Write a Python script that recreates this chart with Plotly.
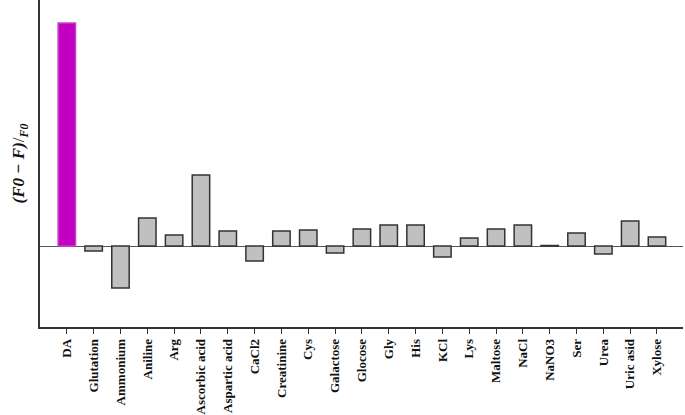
import plotly.graph_objects as go

categories = ["DA", "Glutation", "Ammonium", "Aniline", "Arg", "Ascorbic acid",
              "Aspartic acid", "CaCl2", "Creatinine", "Cys", "Galactose", "Glocose",
              "Gly", "His", "KCl", "Lys", "Maltose", "NaCl", "NaNO3", "Ser", "Urea",
              "Uric asid", "Xylose"]
values = [2.23, -0.05, -0.42, 0.28, 0.11, 0.71, 0.15, -0.15, 0.15, 0.16, -0.07,
          0.17, 0.21, 0.21, -0.11, 0.08, 0.17, 0.21, 0.005, 0.13, -0.08, 0.25, 0.09]
fill_colors = ["#c200c2"] + ["#c0c0c0"] * (len(categories) - 1)
line_colors = ["#c840c8"] + ["#333333"] * (len(categories) - 1)

SERIF = "Liberation Serif, Times New Roman, serif"

fig = go.Figure(go.Bar(
    x=categories, y=values, width=0.65,
    marker=dict(color=fill_colors, line=dict(color=line_colors, width=1.5)),
))

n = len(categories)
fig.update_layout(
    width=685, height=415,
    margin=dict(l=40, r=2, t=0, b=88, autoexpand=False),
    plot_bgcolor="white", paper_bgcolor="white",
    showlegend=False,
    font=dict(family=SERIF, color="#111111"),
)
fig.update_xaxes(
    type="category", range=[-1.0, n - 1 + 0.97], automargin=False,
    showline=True, linecolor="#333333", linewidth=1.5,
    ticks="outside", ticklen=5, tickcolor="#333333", tickwidth=1.2,
    tickangle=-90, tickfont=dict(family=SERIF, size=13, color="#111111"),
    showgrid=False,
)
fig.update_xaxes(tickvals=categories, ticktext=["<b>%s</b>" % c for c in categories])
fig.update_yaxes(
    range=[-0.81, 2.46], automargin=False,
    showline=True, linecolor="#333333", linewidth=1.5,
    showticklabels=False, ticks="", showgrid=False,
    zeroline=True, zerolinecolor="#555555", zerolinewidth=1,
    title=dict(text="<b><i>(F0 − F)</i></b>/<sub><b><i>F0</i></b></sub>",
               font=dict(family=SERIF, size=17, color="#111111"),
               standoff=9),
)
fig.write_html("out.html", config={"displayModeBar": False},
               post_script="document.body.style.margin='0';document.body.style.overflow='hidden';")
